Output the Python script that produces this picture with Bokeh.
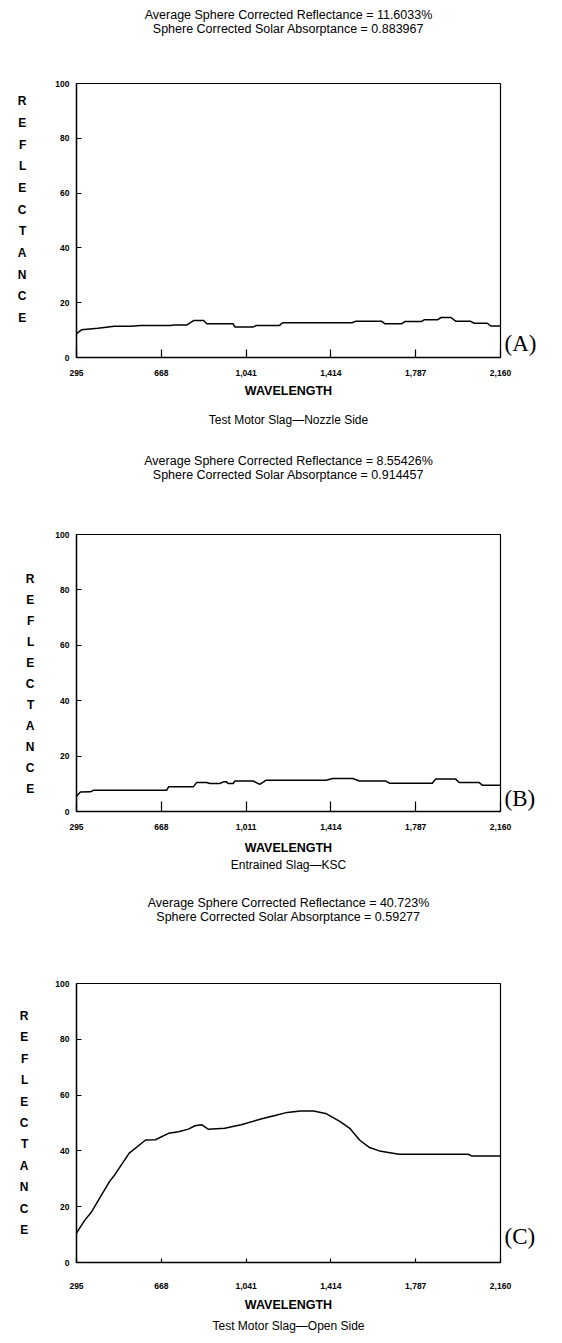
from bokeh.plotting import figure
from bokeh.models import FixedTicker, Range1d, LinearAxis
from bokeh.layouts import column
from bokeh.embed import file_html
from bokeh.resources import INLINE

# ---------------- data ----------------
x_ticks = [295, 668, 1041, 1414, 1787, 2160]
y_ticks = [0, 20, 40, 60, 80, 100]
tick_labels_a = ["295", "668", "1,041", "1,414", "1,787", "2,160"]
tick_labels_b = ["295", "668", "1,011", "1,414", "1,787", "2,160"]
tick_labels_c = ["295", "668", "1,041", "1,414", "1,787", "2,160"]

wl_a = [295, 317, 389, 462, 534, 578, 709, 723, 781, 810, 854, 868, 984, 992, 1071, 1086,
        1188, 1202, 1507, 1522, 1638, 1652, 1725, 1739, 1812, 1826, 1884, 1899, 1942, 1964,
        2029, 2044, 2102, 2117, 2160]
refl_a = [8.7, 10.1, 10.7, 11.4, 11.4, 11.7, 11.7, 11.9, 11.9, 13.5, 13.5, 12.3, 12.3, 11.1,
          11.1, 11.7, 11.7, 12.7, 12.7, 13.2, 13.2, 12.3, 12.3, 13.1, 13.1, 13.8, 13.8, 14.6,
          14.6, 13.2, 13.2, 12.5, 12.5, 11.5, 11.5]

wl_b = [295, 312, 356, 371, 692, 700, 809, 824, 867, 882, 926, 941, 955, 962, 984, 991, 1072,
        1101, 1130, 1393, 1422, 1510, 1539, 1656, 1671, 1860, 1875, 1963, 1978, 2065, 2080, 2160]
refl_b = [5.5, 7.0, 7.1, 7.7, 7.7, 8.9, 8.9, 10.5, 10.5, 10.1, 10.1, 10.7, 10.7, 10.1, 10.1,
          11.0, 11.0, 9.8, 11.3, 11.3, 11.9, 11.9, 11.0, 11.0, 10.2, 10.2, 11.7, 11.7, 10.5,
          10.5, 9.5, 9.5]

wl_c = [295, 330, 360, 400, 440, 462, 527, 599, 642, 700, 744, 787, 816, 845, 874, 947, 1019,
        1106, 1164, 1222, 1280, 1338, 1395, 1453, 1497, 1540, 1584, 1627, 1714, 2018, 2033, 2160]
refl_c = [10.5, 15.0, 18.0, 23.5, 29.0, 31.3, 39.2, 43.9, 44.0, 46.3, 46.9, 47.8, 49.0, 49.4,
          47.8, 48.1, 49.4, 51.4, 52.6, 53.8, 54.3, 54.3, 53.3, 50.6, 48.1, 43.9, 41.2, 40.0,
          38.8, 38.8, 38.2, 38.2]

titles_a = ["Average Sphere Corrected Reflectance = 11.6033%",
            "Sphere Corrected Solar Absorptance = 0.883967"]
titles_b = ["Average Sphere Corrected Reflectance = 8.55426%",
            "Sphere Corrected Solar Absorptance = 0.914457"]
titles_c = ["Average Sphere Corrected Reflectance = 40.723%",
            "Sphere Corrected Solar Absorptance = 0.59277"]
subtitle_a = "Test Motor Slag\u2014Nozzle Side"
subtitle_b = "Entrained Slag\u2014KSC"
subtitle_c = "Test Motor Slag\u2014Open Side"
y_word = "REFLECTANCE"
x_word = "WAVELENGTH"
tag_a, tag_b, tag_c = "(A)", "(B)", "(C)"
tag_pos_a, tag_pos_b, tag_pos_c = 5.1, 4.7, 9.3

SANS = "Liberation Sans"
SERIF = "Liberation Serif"
PAGE_W = 562


def text_axis(label, size, style, standoff, line_height=1.0):
    """A tick-less axis used only to carry a text line outside the frame."""
    return LinearAxis(ticker=FixedTicker(ticks=[]), axis_line_color=None,
                      major_tick_line_color=None, minor_tick_line_color=None,
                      major_tick_out=0, major_tick_in=0, minor_tick_out=0, minor_tick_in=0,
                      major_label_standoff=0,
                      axis_label=label, axis_label_standoff=int(standoff),
                      axis_label_text_font=SANS, axis_label_text_font_size=size,
                      axis_label_text_font_style=style, axis_label_text_color="black",
                      axis_label_text_line_height=line_height)


def make(wl, refl, tlabels, titles, subtitle, tag, tag_pos, g):
    H = g["H"]
    bottom = H - g["top"] - g["fh"]
    right = PAGE_W - g["left"] - g["fw"]
    p = figure(width=PAGE_W, height=H, output_backend="svg", toolbar_location=None,
               x_range=Range1d(295, 2160), y_range=Range1d(0, 100),
               min_border_left=g["left"], min_border_right=right,
               min_border_top=g["top"], min_border_bottom=bottom)
    p.xgrid.visible = False
    p.ygrid.visible = False
    p.outline_line_color = "black"
    p.outline_line_width = 1.2
    p.background_fill_color = "white"
    p.border_fill_color = "white"

    for ax in (p.xaxis, p.yaxis):
        ax.axis_line_color = "black"
        ax.axis_line_width = 1.4
        ax.major_tick_line_color = "black"
        ax.major_tick_line_width = 1.2
        ax.major_tick_out = 0
        ax.minor_tick_line_color = None
        ax.minor_tick_out = 0
        ax.major_label_text_font = SANS
        ax.major_label_text_font_style = "bold"
        ax.major_label_text_font_size = "8.5px"
        ax.major_label_text_color = "black"
        ax.axis_label_text_font = SANS
        ax.axis_label_text_font_style = "bold"
        ax.axis_label_text_color = "black"
    p.xaxis.ticker = FixedTicker(ticks=x_ticks)
    p.xaxis.major_label_overrides = {t: s for t, s in zip(x_ticks, tlabels)}
    p.xaxis.major_tick_in = int(g["xtick"])
    p.xaxis.major_label_standoff = int(g["xstand"])
    p.xaxis.axis_label = x_word
    p.xaxis.axis_label_text_font_size = "12.5px"
    p.xaxis.axis_label_standoff = int(g["xlstand"])

    letters = list(y_word)
    if g["ypad"] == "before":
        letters = [""] + letters
    elif g["ypad"] == "after":
        letters = letters + [""]
    p.yaxis.ticker = FixedTicker(ticks=y_ticks)
    p.yaxis.major_tick_in = 5
    p.yaxis.major_label_standoff = 7
    p.yaxis.axis_label = "\n".join(letters)
    p.yaxis.axis_label_orientation = "horizontal"
    p.yaxis.axis_label_text_font_size = "12px"
    p.yaxis.axis_label_text_line_height = g["lh"]
    p.yaxis.axis_label_standoff = int(g["ylstand"])

    # panel tag on the right, carried by a right-hand axis with a single tick
    tag_axis = LinearAxis(ticker=FixedTicker(ticks=[tag_pos]),
                          major_label_overrides={tag_pos: tag},
                          axis_line_color=None, major_tick_line_color=None,
                          minor_tick_line_color=None, major_tick_out=0, major_tick_in=0,
                          minor_tick_out=0, major_label_standoff=4,
                          major_label_text_font=SERIF, major_label_text_font_size="23px",
                          major_label_text_font_style="normal",
                          major_label_text_color="black")
    p.add_layout(tag_axis, "right")

    # two-line heading above, sub-caption below
    p.add_layout(text_axis("\n".join(titles), "12.5px", "normal", g["tstand"], 0.95), "above")
    p.add_layout(text_axis(subtitle, "12px", "normal", g["substand"]), "below")

    p.line(wl, refl, line_color="black", line_width=1.5)
    return p


ga = dict(H=440, left=72, fw=434, top=83, fh=274, xstand=12, xlstand=5, substand=12,
          tstand=48, ylstand=26, lh=1.55, ypad="after", xtick=8)
gb = dict(H=445, left=76, fw=430, top=94, fh=277, xstand=12, xlstand=8, substand=0,
          tstand=53, ylstand=18, lh=1.50, ypad="before", xtick=10)
gc = dict(H=458, left=66, fw=434, top=98, fh=279, xstand=20, xlstand=6, substand=4,
          tstand=60, ylstand=24, lh=1.53, ypad="none", xtick=4)

pa = make(wl_a, refl_a, tick_labels_a, titles_a, subtitle_a, tag_a, tag_pos_a, ga)
pb = make(wl_b, refl_b, tick_labels_b, titles_b, subtitle_b, tag_b, tag_pos_b, gb)
pc = make(wl_c, refl_c, tick_labels_c, titles_c, subtitle_c, tag_c, tag_pos_c, gc)

layout = column(pa, pb, pc, spacing=0)
open("out.html", "w").write(file_html(layout, INLINE))
